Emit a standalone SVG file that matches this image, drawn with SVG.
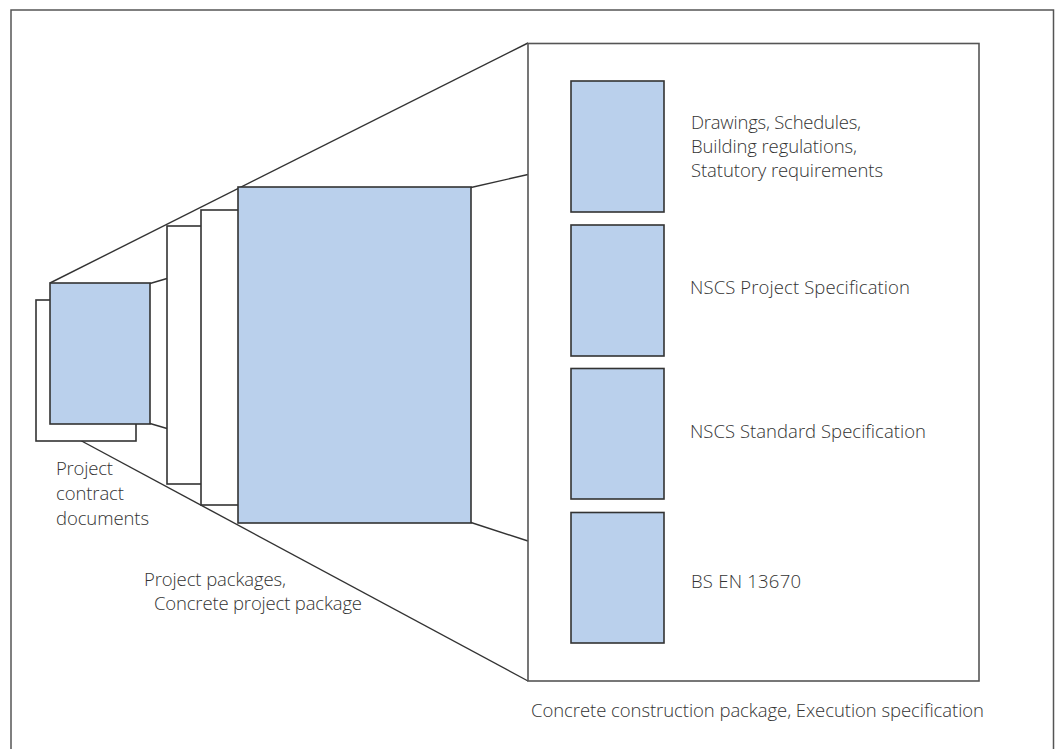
<svg xmlns="http://www.w3.org/2000/svg" width="1056" height="749" viewBox="0 0 1056 749">
<style>
.frame{fill:none;stroke:#555;stroke-width:1.5}
.blue{fill:#bad0ec;stroke:#333;stroke-width:1.6}
.white{fill:#fff;stroke:#333;stroke-width:1.6}
.conn{fill:none;stroke:#333;stroke-width:1.4}
.box{fill:#fff;stroke:#555;stroke-width:1.6}
text{font-family:"Open Sans","Liberation Sans",sans-serif;font-weight:300;font-size:18.5px;fill:#333}
</style>
<rect width="1056" height="749" fill="#fff"/>
<path class="frame" d="M11,749 V10 H1053.5 V749"/>
<g id="connectors">
<line class="conn" x1="50" y1="283" x2="528" y2="43"/>
<line class="conn" x1="50" y1="424" x2="528" y2="681"/>
<line class="conn" x1="150" y1="283.5" x2="167" y2="278.5"/>
<line class="conn" x1="150" y1="423.5" x2="167" y2="428.5"/>
<line class="conn" x1="471" y1="187.5" x2="528" y2="174.5"/>
<line class="conn" x1="471" y1="522.5" x2="528" y2="541"/>
</g>
<g id="project-contract-documents">
<rect class="white" x="36" y="300" width="100" height="141"/>
<rect class="blue" x="50" y="283" width="100" height="141"/>
<text x="56" y="475" textLength="57" lengthAdjust="spacing">Project</text>
<text x="56" y="500" textLength="68" lengthAdjust="spacing">contract</text>
<text x="56" y="525" textLength="93" lengthAdjust="spacing">documents</text>
</g>
<g id="project-packages">
<rect class="white" x="167" y="226" width="40" height="258"/>
<rect class="white" x="201" y="210" width="40" height="295"/>
<rect class="blue" x="238" y="187" width="233" height="336"/>
<text x="144" y="586" textLength="142" lengthAdjust="spacing">Project packages,</text>
<text x="154" y="610" textLength="208" lengthAdjust="spacing">Concrete project package</text>
</g>
<g id="concrete-construction-package">
<rect class="box" x="528" y="43.5" width="451" height="637.5"/>
<text x="531" y="716.5" textLength="453" lengthAdjust="spacing">Concrete construction package, Execution specification</text>
</g>
<g id="drawings">
<rect class="blue" x="571" y="81" width="93" height="131"/>
<text x="691" y="128.5" textLength="170" lengthAdjust="spacing">Drawings, Schedules,</text>
<text x="691" y="152.5" textLength="166" lengthAdjust="spacing">Building regulations,</text>
<text x="691" y="176.5" textLength="192" lengthAdjust="spacing">Statutory requirements</text>
</g>
<g id="nscs-project">
<rect class="blue" x="571" y="225" width="93" height="131"/>
<text x="690" y="294" textLength="220" lengthAdjust="spacing">NSCS Project Specification</text>
</g>
<g id="nscs-standard">
<rect class="blue" x="571" y="368.5" width="93" height="130.5"/>
<text x="690" y="438" textLength="236" lengthAdjust="spacing">NSCS Standard Specification</text>
</g>
<g id="bs-en-13670">
<rect class="blue" x="571" y="512.5" width="93" height="130.5"/>
<text x="691" y="588" textLength="110" lengthAdjust="spacing">BS EN 13670</text>
</g>
</svg>
